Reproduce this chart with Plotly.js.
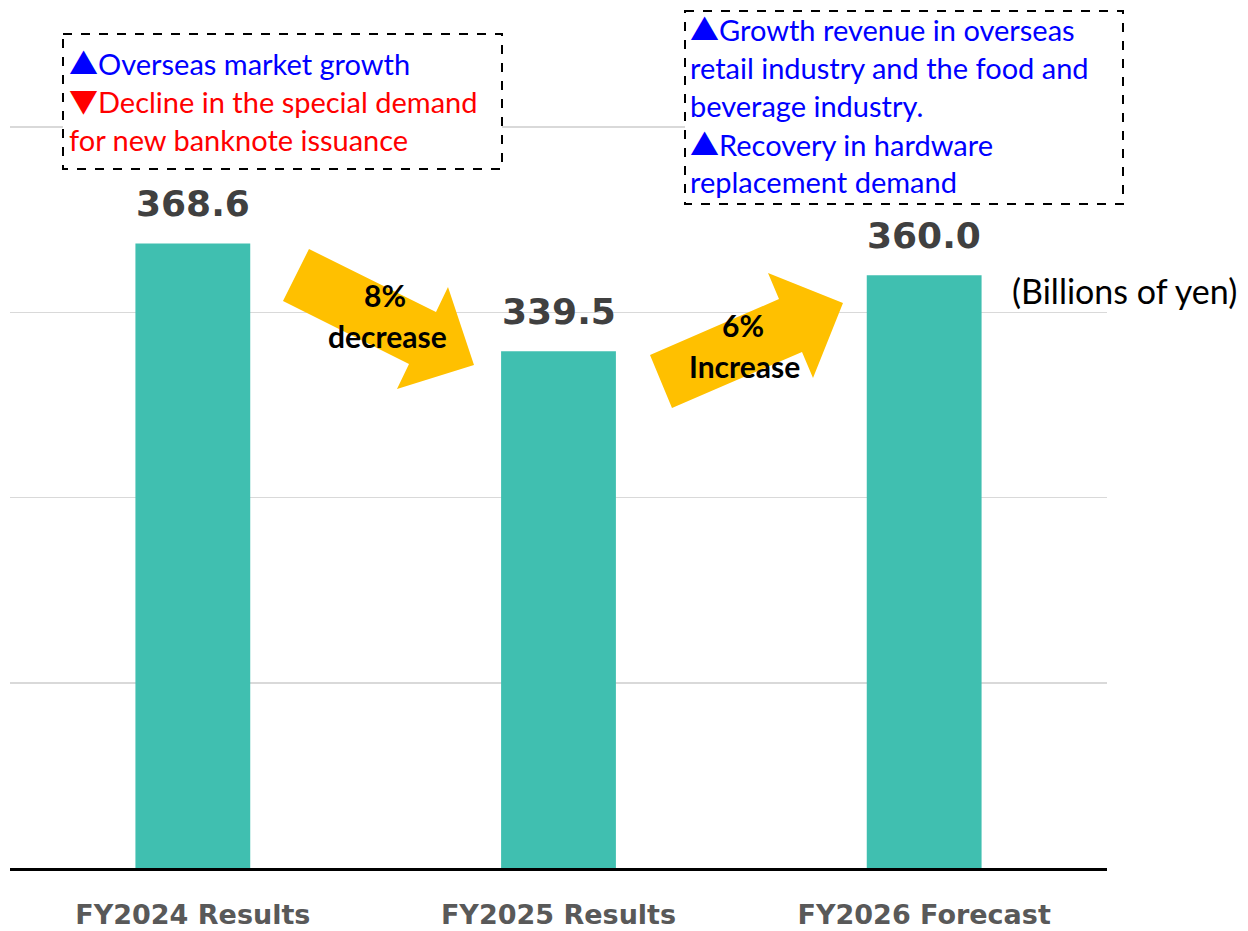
<!DOCTYPE html>
<html>
<head>
<meta charset="utf-8">
<script src="https://cdn.plot.ly/plotly-3.0.1.min.js"></script>
<style>html,body{margin:0;padding:0;background:#fff;}#chart{width:1248px;height:931px;}</style>
</head>
<body>
<div id="chart"></div>
<script>
// ---- data ----
const categories = ["FY2024 Results", "FY2025 Results", "FY2026 Forecast"];
const revenue = [368.6, 339.5, 360.0];
const changePct = ["8%", "6%"];
const changeWord = ["decrease", "Increase"];
const unitLabel = "(Billions of yen)";
const UP = '<span style="font-family:\'Noto Sans CJK JP\'">▲</span>';
const DOWN = '<span style="font-family:\'Noto Sans CJK JP\'">▼</span>';
const box1Lines = [
  '<span style="color:#0000FF">' + UP + 'Overseas market growth</span>',
  '<span style="color:#FF0000">' + DOWN + 'Decline in the special demand</span>',
  '<span style="color:#FF0000">for new banknote issuance</span>'
];
const box2Lines = [
  UP + "Growth revenue in overseas",
  "retail industry and the food and",
  "beverage industry.",
  UP + "Recovery in hardware",
  "replacement demand"
];

// ---- layout helpers (pixel -> paper) ----
const W = 1248, H = 931;
const L = 10, R = 1107, T = 90, B = 868;
const px = x => (x - L) / (R - L);
const py = y => (B - y) / (B - T);
const poly = pts => 'M' + pts.map(p => px(p[0]).toFixed(5) + ',' + py(p[1]).toFixed(5)).join(' L') + ' Z';

const textFont = "Lato, 'Open Sans', sans-serif";

const trace = {
  type: 'bar',
  x: categories,
  y: revenue,
  marker: {color: '#40BFB0'},
  hoverinfo: 'skip'
};

const annotations = [];
// value labels
categories.forEach((c, i) => {
  annotations.push({
    x: c, y: revenue[i], xref: 'x', yref: 'y',
    text: revenue[i].toFixed(1), showarrow: false,
    yanchor: 'bottom', yshift: 17,
    font: {family: "'DejaVu Sans', sans-serif", size: 36, color: '#404040', weight: 'bold'}
  });
});
// box 1 lines
const b1y = [62, 100, 140];
box1Lines.forEach((t, i) => {
  annotations.push({
    xref: 'paper', yref: 'paper', x: px(67), y: py(b1y[i]),
    xanchor: 'left', yanchor: 'middle', showarrow: false, text: t,
    font: {family: textFont, size: 29, color: '#0000FF'}
  });
});
// box 2 lines
const b2y = [28, 67, 105, 143, 182];
box2Lines.forEach((t, i) => {
  annotations.push({
    xref: 'paper', yref: 'paper', x: px(688), y: py(b2y[i]),
    xanchor: 'left', yanchor: 'middle', showarrow: false, text: t,
    font: {family: textFont, size: 29, color: '#0000FF'}
  });
});
// arrow labels
const pctPos = [[385, 295], [743, 325]];
const wordPos = [[387, 336], [744, 366]];
changePct.forEach((t, i) => {
  annotations.push({
    xref: 'paper', yref: 'paper', x: px(pctPos[i][0]), y: py(pctPos[i][1]),
    xanchor: 'center', yanchor: 'middle', showarrow: false, text: t,
    font: {family: textFont, size: 30, color: '#000000', weight: 'bold'}
  });
  annotations.push({
    xref: 'paper', yref: 'paper', x: px(wordPos[i][0]), y: py(wordPos[i][1]),
    xanchor: 'center', yanchor: 'middle', showarrow: false, text: changeWord[i],
    font: {family: textFont, size: 30, color: '#000000', weight: 'bold'}
  });
});
// unit label
annotations.push({
  xref: 'paper', yref: 'paper', x: px(1010), y: py(290),
  xanchor: 'left', yanchor: 'middle', showarrow: false, text: unitLabel,
  font: {family: textFont, size: 34, color: '#000000'}
});

const shapes = [
  // dashed boxes
  {type: 'rect', xref: 'paper', yref: 'paper', x0: px(63), x1: px(502), y0: py(34), y1: py(169),
   fillcolor: '#FFFFFF', line: {color: '#000000', width: 2, dash: 'dash'}, layer: 'above'},
  {type: 'rect', xref: 'paper', yref: 'paper', x0: px(685), x1: px(1123), y0: py(11), y1: py(204),
   fillcolor: '#FFFFFF', line: {color: '#000000', width: 2, dash: 'dash'}, layer: 'above'},
  // block arrows
  {type: 'path', xref: 'paper', yref: 'paper', layer: 'above',
   path: poly([[309,249],[436,312],[448,287],[474,365],[397,389],[409,364],[283,301]]),
   fillcolor: '#FFC000', line: {width: 0}},
  {type: 'path', xref: 'paper', yref: 'paper', layer: 'above',
   path: poly([[650,355],[779,299],[768,273],[843,303],[813,378],[802,352],[672,408]]),
   fillcolor: '#FFC000', line: {width: 0}}
];

const layout = {
  width: W, height: H,
  margin: {l: L, r: W - R, t: T, b: H - B, pad: 0},
  paper_bgcolor: '#FFFFFF', plot_bgcolor: '#FFFFFF',
  showlegend: false,
  bargap: 0.686,
  xaxis: {
    showline: true, linecolor: '#000000', linewidth: 3,
    showgrid: false, ticks: '', ticklabelstandoff: 21,
    tickfont: {family: "'DejaVu Sans', sans-serif", size: 27, color: '#595959', weight: 'bold'},
    fixedrange: true
  },
  yaxis: {
    range: [200, 410], tick0: 200, dtick: 50,
    showgrid: true, gridcolor: '#D9D9D9', gridwidth: 1.5,
    showticklabels: false, zeroline: false, showline: false, ticks: '',
    fixedrange: true
  },
  annotations: annotations,
  shapes: shapes
};

Plotly.newPlot('chart', [trace], layout, {displayModeBar: false, staticPlot: true});
</script>
</body>
</html>
